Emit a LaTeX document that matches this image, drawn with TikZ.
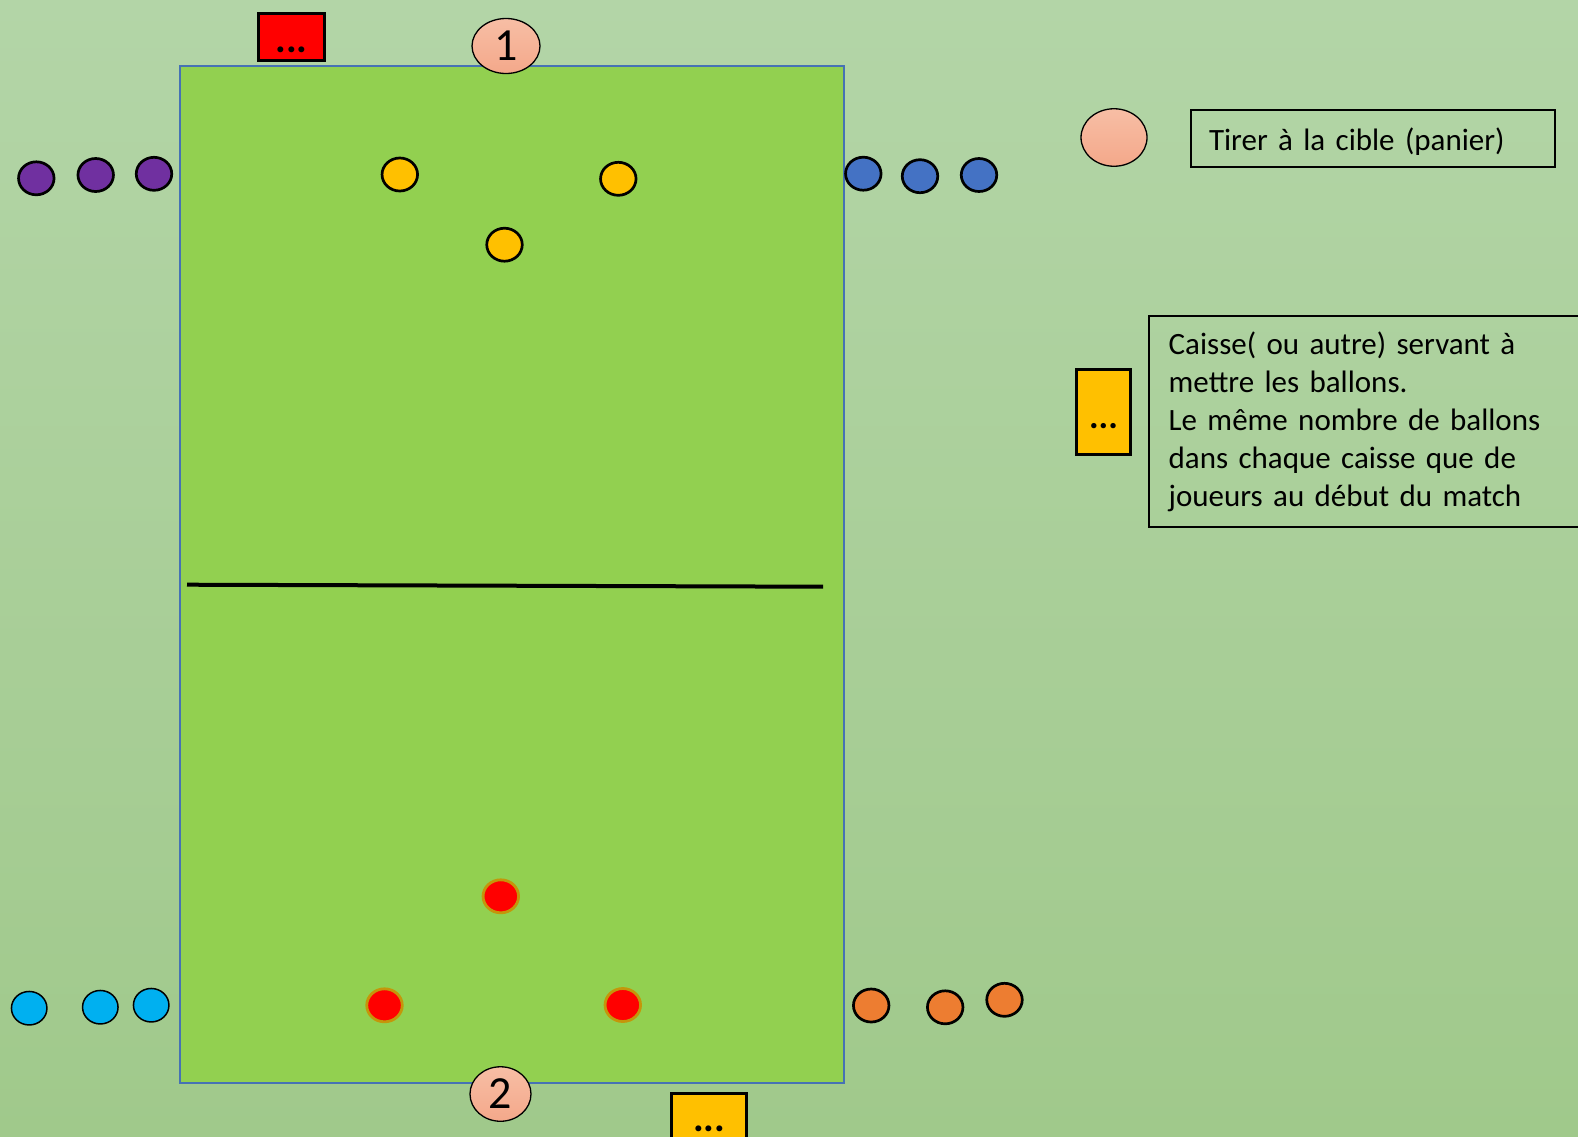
\documentclass[tikz,border=0pt]{standalone}
\usepackage{fontspec}
\setmainfont{Carlito}
\usetikzlibrary{shapes.geometric}
\definecolor{bgtop}{RGB}{179,213,167}
\definecolor{bgbot}{RGB}{160,201,139}
\definecolor{pitch}{RGB}{146,208,80}
\definecolor{pitchline}{RGB}{70,114,180}
\definecolor{cpurple}{RGB}{112,48,160}
\definecolor{cyellow}{RGB}{255,192,0}
\definecolor{cblue}{RGB}{68,114,196}
\definecolor{ccyan}{RGB}{0,176,240}
\definecolor{cred}{RGB}{255,0,0}
\definecolor{corange}{RGB}{237,125,49}
\definecolor{redrim}{RGB}{196,150,10}
\definecolor{salmontop}{RGB}{247,190,165}
\definecolor{salmonbot}{RGB}{244,168,138}
\newcommand\legfontsel{\fontsize{31}{38.2}\selectfont\spaceskip=5.9pt plus 1.5pt minus 0.5pt\relax}
\begin{document}
\begin{tikzpicture}[x=1pt,y=-1pt,
  player/.style={ellipse,draw=black,line width=2.7pt,minimum width=35.5pt,minimum height=33pt,inner sep=0pt},
  thinplayer/.style={ellipse,draw=black,line width=1.5pt,minimum width=35.5pt,minimum height=33.5pt,inner sep=0pt},
  redplayer/.style={ellipse,draw=redrim,fill=cred,line width=2.8pt,minimum width=35.5pt,minimum height=33pt,inner sep=0pt},
  target/.style={ellipse,draw=black,line width=1.3pt,top color=salmontop,bottom color=salmonbot,inner sep=0pt,
    font=\fontsize{46}{50}\selectfont},
  crate/.style={rectangle,draw=black,line width=3pt,inner xsep=0pt,inner ysep=0pt,
    font=\fontsize{40}{44}\selectfont\bfseries},
  legbox/.style={rectangle,draw=black,line width=2pt,align=left,inner ysep=0pt,font=\legfontsel},
  fieldbox/.style={rectangle,draw=pitchline,fill=pitch,line width=2pt,inner sep=0pt}
]
\useasboundingbox (0,0) rectangle (1578,1136);
\clip (0,0) rectangle (1578,1136);
\shade[top color=bgtop,bottom color=bgbot] (0,0) rectangle (1578,1136);

% field
\node[fieldbox,minimum width=664.5pt,minimum height=1017pt] (field) at (512.2,574.8) {};
\coordinate (ml) at (187,584.7);
\coordinate (mr) at (823,586.7);
\draw[line width=4pt] (ml) -- (mr);

% targets
\node[target,minimum width=68pt,minimum height=55pt] (t1) at (506,46) {1};
\node[target,minimum width=61pt,minimum height=54.5pt] (t2) at (500.5,1094) {2};

% crates
\node[crate,fill=cred,minimum width=66pt,text height=38.7pt,text depth=8pt,anchor=north] (crateR) at (291.5,11.8) {...};
\node[crate,fill=cyellow,minimum width=75.3pt,text height=37.3pt,text depth=8pt,anchor=north] (crateY) at (709.2,1092.2) {...};

% players
\node[player,fill=cpurple] (p1) at (36.3,178.3) {};
\node[player,fill=cpurple] (p2) at (95.7,175) {};
\node[player,fill=cpurple] (p3) at (154,173.8) {};
\node[player,fill=cyellow] (y1) at (399.8,174.5) {};
\node[player,fill=cyellow] (y2) at (618.3,178.8) {};
\node[player,fill=cyellow] (y3) at (504.5,244.7) {};
\node[player,fill=cblue] (b1) at (863.3,173.7) {};
\node[player,fill=cblue] (b2) at (920,176.2) {};
\node[player,fill=cblue] (b3) at (979,175) {};
\node[thinplayer,fill=ccyan] (c1) at (29.2,1008.2) {};
\node[thinplayer,fill=ccyan] (c2) at (100.3,1007.2) {};
\node[thinplayer,fill=ccyan] (c3) at (151.2,1005.2) {};
\node[redplayer] (r1) at (500.8,896.3) {};
\node[redplayer] (r2) at (384.5,1005.3) {};
\node[redplayer] (r3) at (622.8,1005) {};
\node[player,fill=corange] (o1) at (871.2,1005.5) {};
\node[player,fill=corange] (o2) at (945.2,1007.3) {};
\node[player,fill=corange] (o3) at (1004.5,999.8) {};

% legend
\node[target,minimum width=66pt,minimum height=57.5pt] (legT) at (1114,137.5) {};
\node[legbox,anchor=north west,inner xsep=18.3pt,text width=327.7pt,text height=40pt,text depth=16.7pt] (legTxt1) at (1189.7,109.3) {Tirer à la cible (panier)};
\node[crate,fill=cyellow,minimum width=54pt,text height=58.3pt,text depth=26.3pt,anchor=north,font=\fontsize{36}{40}\selectfont\bfseries] (legC) at (1103.5,368.2) {...};
\node[legbox,anchor=north west,inner xsep=19.7pt,text width=420pt,minimum height=211pt] (legTxt2) at (1148,315.3)
  {Caisse( ou autre) servant à\\mettre les ballons.\\Le même nombre de ballons\\dans chaque caisse que de\\joueurs au début du match};
\end{tikzpicture}
\end{document}
